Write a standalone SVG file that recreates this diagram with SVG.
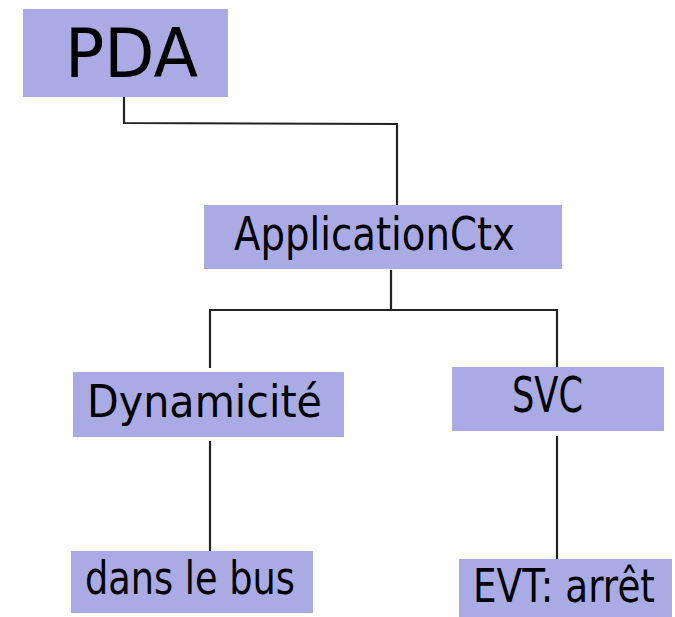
<svg xmlns="http://www.w3.org/2000/svg" width="675" height="617" viewBox="0 0 675 617">
<style>
.box{fill:#aaaae5}
.lbl{font-family:"DejaVu Sans","Liberation Sans",sans-serif;fill:#000}
.con{fill:none;stroke:#222;stroke-width:2.2}
</style>
<rect width="675" height="617" fill="#fff"/>
<g id="connectors">
<polyline class="con" points="124,97 124,123 397,124 397,206"/>
<polyline class="con" points="391,270 391,310"/>
<polyline class="con" points="210,368 210,310 557,310 557,367"/>
<polyline class="con" points="210,441 210,551"/>
<polyline class="con" points="557,436 557,559"/>
</g>
<g id="PDA">
<rect class="box" x="23" y="9" width="205" height="88"/>
<text class="lbl" x="65" y="77" font-size="68" textLength="133" lengthAdjust="spacingAndGlyphs">PDA</text>
</g>
<g id="ApplicationCtx">
<rect class="box" x="204" y="205" width="358" height="64"/>
<text class="lbl" x="234" y="250" font-size="46" textLength="281" lengthAdjust="spacingAndGlyphs">ApplicationCtx</text>
</g>
<g id="Dynamicite">
<rect class="box" x="73" y="372" width="271" height="65"/>
<text class="lbl" x="87" y="417" font-size="44" textLength="235" lengthAdjust="spacingAndGlyphs">Dynamicité</text>
</g>
<g id="SVC">
<rect class="box" x="452" y="367" width="212" height="64"/>
<text class="lbl" x="512" y="412" font-size="49" textLength="71" lengthAdjust="spacingAndGlyphs">SVC</text>
</g>
<g id="dans_le_bus">
<rect class="box" x="71" y="551" width="242" height="62"/>
<text class="lbl" x="85" y="594" font-size="47" textLength="210" lengthAdjust="spacingAndGlyphs">dans le bus</text>
</g>
<g id="EVT_arret">
<rect class="box" x="459" y="559" width="213" height="58"/>
<text class="lbl" x="473" y="602" font-size="46" textLength="182" lengthAdjust="spacingAndGlyphs">EVT: arrêt</text>
</g>
</svg>
